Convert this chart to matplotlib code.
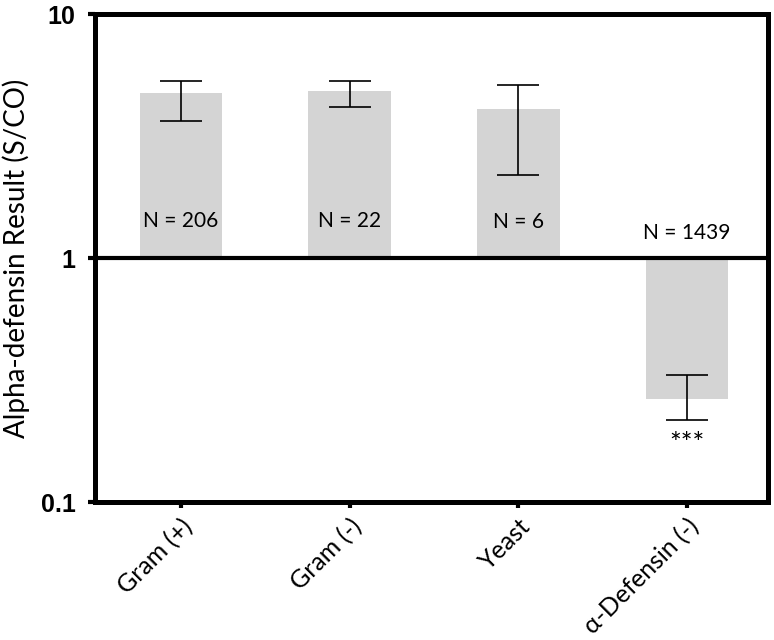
import matplotlib
matplotlib.use("Agg")

import numpy as np
import matplotlib.pyplot as plt
from matplotlib.transforms import ScaledTranslation

categorias = ["Gram (+)", "Gram (-)", "Yeast", "α-Defensin (-)"]
medias = [4.73, 4.82, 4.07, 0.264]
err_alto = [5.31, 5.31, 5.13, 0.331]
err_bajo = [3.64, 4.17, 2.18, 0.217]
etiquetas_n = ["N = 206", "N = 22", "N = 6", "N = 1439"]
pos_n = [1.42, 1.42, 1.40, 1.27]

plt.rcParams['font.family'] = ['Lato', 'DejaVu Sans']

fig = plt.figure(figsize=(7.74, 6.4), dpi=100)
ax = fig.add_axes([0.1227, 0.2156, 0.8695, 0.7625])

x = np.arange(len(categorias))
medias_arr = np.array(medias)
alturas = medias_arr - 1

# barras desde 1 hacia arriba o abajo
ax.bar(x, alturas, bottom=1, width=0.49, color="#d4d4d4", zorder=1)

yerr = [medias_arr - np.array(err_bajo), np.array(err_alto) - medias_arr]
ax.errorbar(x, medias_arr, yerr=yerr, fmt="none", ecolor="black",
            elinewidth=1.2, capsize=15, capthick=1.2, zorder=3)

ax.axhline(1, color="black", linewidth=3, zorder=2)

for xi, txt, yp in zip(x, etiquetas_n, pos_n):
    ax.text(xi, yp, txt, ha="center", va="center", fontsize=15)

ax.text(x[3], 0.172, "***", ha="center", va="center", fontsize=20)

ax.set_yscale("log")
ax.set_ylim(0.1, 10)
ax.set_xlim(-0.51, 3.48)
ax.set_yticks([0.1, 1, 10])
ax.set_yticklabels(["0.1", "1", "10"], fontsize=18, fontweight="bold",
                   family="Liberation Sans")
ax.minorticks_off()
ax.set_xticks(x)
ax.set_xticklabels(categorias, fontsize=18, rotation=45, ha="right",
                   rotation_mode="anchor")
# mover un poco las etiquetas rotadas hacia la izquierda y arriba
desplaza = ScaledTranslation(-6 / 72, 5 / 72, fig.dpi_scale_trans)
for lab in ax.get_xticklabels():
    lab.set_transform(lab.get_transform() + desplaza)
ax.tick_params(axis="y", length=5, width=3, pad=9)
ax.tick_params(axis="x", length=4, width=3, pad=5)
ax.set_ylabel("Alpha-defensin Result (S/CO)", fontsize=20, labelpad=8)

for s in ax.spines.values():
    s.set_linewidth(3.6)

fig.savefig("out.png", dpi=100)
